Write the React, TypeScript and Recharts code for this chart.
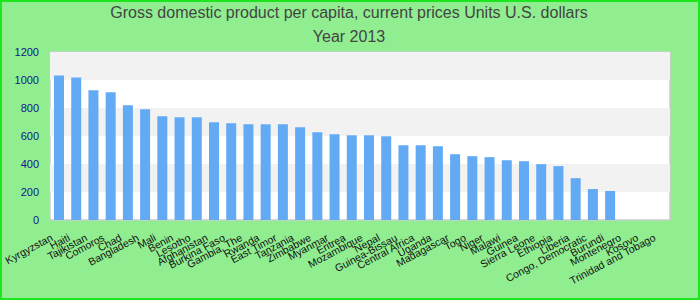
import { BarChart, Bar, XAxis, YAxis, ReferenceArea } from "recharts"

const countries = [
  "Kyrgyzstan", "Haiti", "Tajikistan", "Comoros", "Chad", "Bangladesh", "Mali", "Benin",
  "Lesotho", "Afghanistan", "Burkina Faso", "Gambia, The", "Rwanda", "East Timor", "Tanzania",
  "Zimbabwe", "Myanmar", "Eritrea", "Mozambique", "Nepal", "Guinea-Bissau", "Central Africa",
  "Uganda", "Madagascar", "Togo", "Niger", "Malawi", "Guinea", "Sierra Leone", "Ethiopia",
  "Liberia", "Congo, Democratic", "Burundi", "Montenegro", "Kosovo", "Trinidad and Tobago",
]

const gdpPerCapita: (number | null)[] = [
  1033, 1018, 926, 912, 819, 791, 741, 734,
  734, 698, 691, 684, 684, 684, 662,
  627, 612, 605, 605, 598, 534, 534,
  527, 470, 456, 449, 427, 420, 399, 385,
  299, 221, 207, null, null, null,
]

const yTicks = [0, 200, 400, 600, 800, 1000, 1200]

const data = countries.map((name, i) => ({ name, value: gdpPerCapita[i] }))

const FONT = "'Liberation Sans', Arial, sans-serif"

function CountryTick({ x, y, payload }: any) {
  const ax = x - 5
  const ay = y + 20
  return (
    <text
      x={ax}
      y={ay}
      textAnchor="end"
      transform={`rotate(-28, ${ax}, ${ay})`}
      fontSize={10.5}
      fontFamily={FONT}
      fill="#111"
    >
      {payload.value}
    </text>
  )
}

export default function App() {
  return (
    <div style={{ position: "absolute", left: 0, top: 0, width: 700, height: 300, background: "#90EE90", fontFamily: FONT }}>
      <div style={{ position: "absolute", left: 0, top: 3, width: 698, textAlign: "center", fontSize: 16, color: "#444", lineHeight: "19px" }}>
        Gross domestic product per capita, current prices Units U.S. dollars
      </div>
      <div style={{ position: "absolute", left: 0, top: 27, width: 698, textAlign: "center", fontSize: 16, color: "#444", lineHeight: "19px" }}>
        Year 2013
      </div>
      <div style={{ position: "absolute", left: 0, top: 0 }}>
        <BarChart width={700} height={300} data={data} margin={{ top: 52, right: 30, bottom: 0, left: 0 }} barCategoryGap={0}>
          <ReferenceArea y1={0} y2={1200} fill="#ffffff" fillOpacity={1} stroke="#cccccc" strokeWidth={1.5} ifOverflow="visible" />
          {yTicks.slice(0, -1).map((t, i) =>
            i % 2 === 1 ? (
              <ReferenceArea key={t} y1={t} y2={yTicks[i + 1]} fill="#f2f2f2" fillOpacity={1} stroke="none" />
            ) : null
          )}
          <XAxis
            dataKey="name"
            interval={0}
            height={80}
            axisLine={false}
            tickLine={false}
            tickSize={0}
            tickMargin={0}
            tick={<CountryTick />}
          />
          <YAxis
            width={50}
            domain={[0, 1200]}
            ticks={yTicks}
            axisLine={false}
            tickLine={false}
            tickSize={0}
            tickMargin={11}
            tick={{ fontSize: 11, fill: "#14148f", fontFamily: FONT }}
          />
          <Bar dataKey="value" fill="#63aaf5" barSize={10} isAnimationActive={false} />
        </BarChart>
      </div>
      <div style={{ position: "absolute", left: 0, top: 0, width: 700, height: 300, boxSizing: "border-box", border: "2px solid #1ee61e", pointerEvents: "none" }} />
    </div>
  )
}
